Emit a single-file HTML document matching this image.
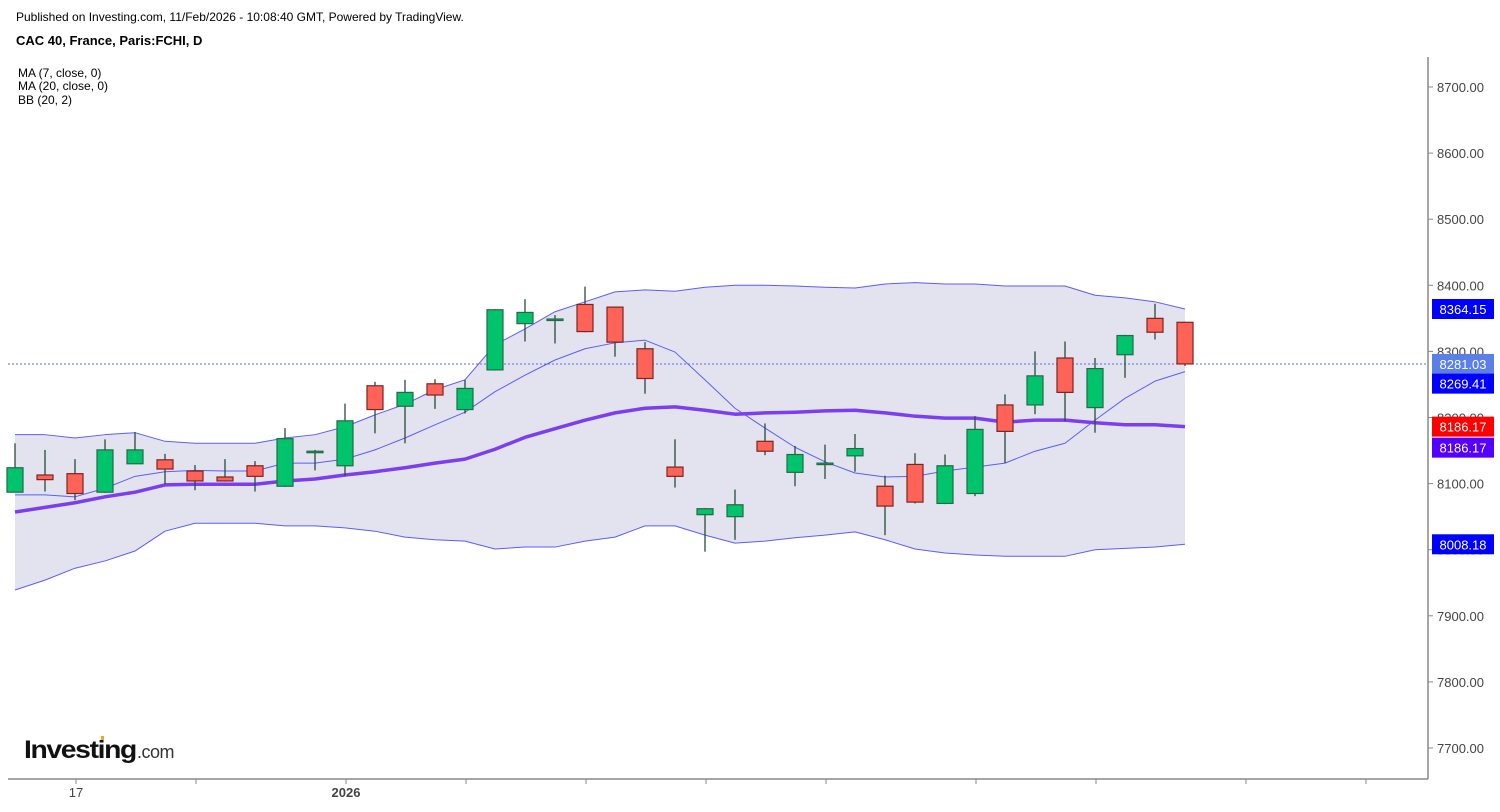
<!DOCTYPE html>
<html><head><meta charset="utf-8">
<style>
body{margin:0;background:#fff;width:1500px;height:807px;overflow:hidden;font-family:"Liberation Sans",Arial,sans-serif;}
svg text{font-family:"Liberation Sans",Arial,sans-serif;}
</style></head>
<body>
<svg id="chart" width="1500" height="807">
<text x="16" y="21" font-size="12" fill="#000">Published on Investing.com, 11/Feb/2026 - 10:08:40 GMT, Powered by TradingView.</text>
<text x="16" y="45" font-size="13" font-weight="bold" fill="#000">CAC 40, France, Paris:FCHI, D</text>
<text x="18" y="77" font-size="12" fill="#000">MA (7, close, 0)</text>
<text x="18" y="90" font-size="12" fill="#000">MA (20, close, 0)</text>
<text x="18" y="104" font-size="12" fill="#000">BB (20, 2)</text>
<g id="plot"></g>
<line x1="1428" y1="57" x2="1428" y2="779" stroke="#888" stroke-width="1.5"/>
<line x1="8" y1="779" x2="1428" y2="779" stroke="#888" stroke-width="1.5"/>
<g id="yaxis"></g>
<g id="xaxis"></g>
<g id="tags"></g>
<g>
<text x="24" y="758" font-size="25" font-weight="bold" fill="#111" letter-spacing="-1.2" textLength="112" lengthAdjust="spacingAndGlyphs">Investing</text>
<text x="137" y="758" font-size="18" fill="#333" letter-spacing="-0.5">.com</text>
<rect x="101" y="736" width="3" height="4" fill="#f5a623"/>
</g>
</svg>
<script>
const opens =  [8087,8113,8115,8087,8130,8136,8119,8110,8127,8096,8148,8127,8248,8217,8251,8212,8272,8342,8348,8371,8367,8304,8125,8053,8050,8164,8117,8130,8142,8096,8129,8070,8085,8219,8219,8290,8215,8295,8350,8344];
const closes = [8124,8106,8085,8151,8151,8122,8104,8104,8111,8168,8149,8195,8212,8238,8234,8244,8363,8359,8349,8330,8314,8259,8111,8062,8068,8149,8144,8131,8153,8066,8072,8127,8182,8179,8263,8238,8274,8324,8329,8281.03];
const highs =  [8161,8151,8137,8167,8178,8145,8128,8137,8134,8184,8151,8221,8254,8257,8258,8257,8364,8379,8355,8398,8368,8314,8167,8063,8091,8191,8157,8159,8175,8112,8146,8144,8202,8235,8300,8315,8290,8325,8372,8345];
const lows =   [8087,8088,8075,8086,8130,8099,8090,8103,8088,8095,8120,8111,8176,8161,8213,8206,8271,8315,8312,8329,8292,8236,8094,7997,8015,8143,8096,8107,8118,8022,8070,8069,8081,8131,8205,8194,8177,8260,8318,8278];
const bbUpper = [8174,8174,8169,8174,8177,8164,8161,8161,8161,8169,8174,8186,8204,8220,8242,8257,8310,8334,8360,8375,8390,8393,8391,8397,8400,8400,8399,8397,8396,8402,8404,8402,8402,8399,8399,8399,8385,8381,8375,8364.15];
const bbLower = [7939,7954,7972,7983,7998,8028,8040,8040,8040,8036,8036,8033,8028,8019,8015,8013,8001,8004,8004,8013,8019,8036,8036,8022,8010,8013,8018,8022,8027,8015,8001,7995,7992,7990,7990,7990,8000,8002,8004,8008.18];
const ma7 =    [8083,8083,8080,8093,8111,8118,8120,8119,8119,8131,8131,8137,8151,8169,8189,8208,8239,8264,8287,8304,8313,8317,8299,8257,8214,8184,8155,8133,8116,8110,8111,8119,8125,8131,8149,8161,8196,8229,8255,8269.41];
const ma20 =   [8057,8064,8071,8080,8087,8098,8099,8099,8099,8104,8107,8113,8118,8124,8131,8137,8152,8170,8183,8196,8207,8214,8216,8211,8205,8207,8208,8210,8211,8207,8202,8199,8199,8193,8196,8196,8192,8189,8189,8186.17];
const yTicks = [7700,7800,7900,8000,8100,8200,8300,8400,8500,8600,8700];
const xTickIdx = [2,6,11,15,19,23,27,32,36,41,45];
const xLabels = [["17",2,false],["2026",11,true]];

const NS="http://www.w3.org/2000/svg";
function Y(v){return 87+(8700-v)*0.661;}
function X(i){return 15+i*30;}
function mk(tag,attrs,parent){const e=document.createElementNS(NS,tag);for(const k in attrs)e.setAttribute(k,attrs[k]);parent.appendChild(e);return e;}
const plot=document.getElementById('plot');
let pts=bbUpper.map((v,i)=>X(i)+','+Y(v)).concat(bbLower.map((v,i)=>X(i)+','+Y(v)).reverse());
const band=mk('polygon',{points:pts.join(' '),fill:'#e3e3f0'},plot);


function line(arr,color,w,name){const p=mk('polyline',{points:arr.map((v,i)=>X(i)+','+Y(v)).join(' '),fill:'none',stroke:color,'stroke-width':w,'stroke-linejoin':'round'},plot);

}
line(bbUpper,'#5c5cff',1,'bb-upper-line');
line(bbLower,'#5c5cff',1,'bb-lower-line');
line(ma7,'#5c5cff',1,'ma7-line');
line(ma20,'#7b3ff0',3.5,'ma20-line');
const lp=mk('line',{x1:8,x2:1428,y1:Y(closes[closes.length-1]),y2:Y(closes[closes.length-1]),stroke:'#5b6ee0','stroke-dasharray':'2,2','stroke-width':1},plot);


for(let i=0;i<opens.length;i++){
  const g=mk('g',{},plot);
  
  
  const up=closes[i]>=opens[i];
  mk('line',{x1:X(i),x2:X(i),y1:Y(highs[i]),y2:Y(lows[i]),stroke:'#2d4a3a','stroke-width':1.3},g);
  const top=Y(Math.max(opens[i],closes[i])),bot=Y(Math.min(opens[i],closes[i]));
  mk('rect',{x:X(i)-8,y:top,width:16,height:Math.max(bot-top,1.5),fill:up?'#00c46b':'#ff6358',stroke:up?'#236b45':'#7a2520','stroke-width':1.2},g);
}
const ya=document.getElementById('yaxis');
yTicks.forEach(v=>{
  const t=mk('text',{x:1437,y:Y(v)+5,'font-size':13,fill:'#444'},ya);t.textContent=v.toFixed(2);
  
  
  mk('line',{x1:1428,x2:1433,y1:Y(v),y2:Y(v),stroke:'#888'},ya);
});
const xa=document.getElementById('xaxis');
xTickIdx.forEach(i=>{mk('line',{x1:X(i)+1,x2:X(i)+1,y1:779,y2:784,stroke:'#888'},xa);});
xLabels.forEach(l=>{const t=mk('text',{x:X(l[1])+1,y:797,'font-size':13,fill:'#444','text-anchor':'middle','font-weight':l[2]?'bold':'normal'},xa);t.textContent=l[0];

});
const tg=document.getElementById('tags');
const tagVals=[[bbUpper[39],'#0000ff',0],[closes[39],'#5b7fe8',0],[ma7[39],'#0000ff',12],[ma20[39],'#ff0000',0],[ma20[39],'#5500ff',21],[bbLower[39],'#0000ff',0]];
tagVals.forEach(t=>{const cy=Y(t[0])+t[2];
  const g=mk('g',{},tg);
  
  
  mk('rect',{x:1432,y:cy-10,width:62,height:20,fill:t[1]},g);
  const tx=mk('text',{x:1463,y:cy+5,'font-size':13,fill:'#fff','text-anchor':'middle'},g);tx.textContent=t[0].toFixed(2);
});
</script>
</body></html>
